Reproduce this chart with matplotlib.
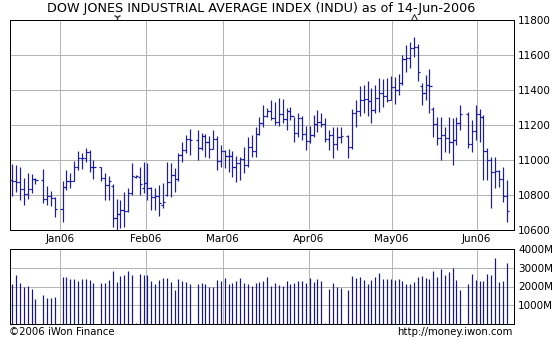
import numpy as np
import pandas as pd
import matplotlib
matplotlib.use('Agg')
import matplotlib.pyplot as plt
import matplotlib.transforms as mtransforms

# trading days shown; exchange holidays keep an empty weekday slot
holidays = ['2005-12-26', '2006-01-02', '2006-01-16', '2006-02-20', '2006-04-14', '2006-05-29']
days = [d for d in pd.bdate_range('2005-12-15', '2006-06-13') if d.strftime('%Y-%m-%d') not in holidays]

opens = [10884, 10882, 10876, 10837, 10806, 10834, 10889, 10883, 10778, 10796, 10785,
         10718, 10847, 10880, 10882, 10959, 11012, 11012, 11043, 10962, 10960, 10896, 10855, 10850, 10667, 10689, 10712, 10711, 10809, 10900, 10905,
         10840, 10867, 10838, 10790, 10795, 10740, 10800, 10876, 10914, 10892, 11028, 11059, 11121, 11115, 11069, 11137, 11102, 11062, 11120,
         10993, 11054, 11025, 11022, 10959, 10981, 11006, 10972, 11076, 11049, 11151, 11210, 11253, 11280, 11242, 11215, 11265, 11232, 11280, 11251, 11154, 11240, 11151,
         11109, 11144, 11204, 11216, 11204, 11120, 11141, 11090, 11130, 11138, 11074, 11269, 11279, 11343, 11347, 11336, 11283, 11354, 11383,
         11367, 11343, 11416, 11400, 11439, 11578, 11585, 11640, 11643, 11420, 11381, 11429, 11290, 11206, 11128, 11144, 11123, 11105, 11117, 11211, 11260, 11094,
         11168, 11260, 11248, 11049, 11002, 10932, 10939, 10892, 10793]
highs = [10977, 10969, 10962, 10895, 10924, 10920, 10896, 10948, 10851, 10821, 10790,
         10880, 10940, 10925, 10995, 11050, 11040, 11070, 11055, 11000, 10962, 10928, 10910, 10860, 10777, 10771, 10819, 10840, 10981, 10914, 10962,
         10990, 10980, 10848, 10838, 10857, 10867, 10990, 10981, 10952, 11040, 11105, 11143, 11175, 11170, 11157, 11150, 11137, 11170, 11137,
         11086, 11057, 11060, 11050, 11020, 11019, 11076, 11133, 11143, 11190, 11248, 11314, 11295, 11343, 11333, 11352, 11347, 11295, 11305, 11248, 11270, 11250, 11194,
         11194, 11257, 11286, 11267, 11240, 11171, 11190, 11190, 11190, 11143, 11290, 11340, 11420, 11430, 11450, 11410, 11430, 11467, 11461,
         11467, 11480, 11475, 11490, 11600, 11657, 11676, 11705, 11660, 11440, 11486, 11518, 11300, 11248, 11248, 11190, 11248, 11238, 11248, 11314, 11276, 11229,
         11314, 11290, 11257, 11070, 11019, 11019, 10943, 10962, 10886]
lows = [10796, 10819, 10771, 10743, 10777, 10809, 10860, 10752, 10743, 10739, 10676,
        10645, 10830, 10840, 10880, 10945, 10950, 10990, 10930, 10890, 10880, 10771, 10771, 10619, 10600, 10610, 10619, 10705, 10800, 10895, 10800,
        10810, 10771, 10714, 10714, 10680, 10724, 10794, 10790, 10819, 10880, 10990, 11038, 11030, 11000, 11057, 11019, 11010, 11060, 10943,
        10962, 10952, 10933, 10905, 10876, 10886, 10924, 10962, 11019, 11019, 11143, 11190, 11248, 11229, 11200, 11194, 11209, 11171, 11229, 11105, 11133, 11114, 11057,
        11095, 11133, 11162, 11190, 11100, 11057, 11010, 11057, 11095, 11010, 11060, 11190, 11250, 11270, 11250, 11210, 11267, 11276, 11305,
        11333, 11340, 11320, 11370, 11430, 11505, 11524, 11590, 11450, 11314, 11343, 11267, 11133, 11086, 11000, 11048, 11038, 10971, 11086, 11171, 11067, 11048,
        11114, 11105, 10886, 10886, 10724, 10838, 10848, 10762, 10648]
closes = [10882, 10876, 10837, 10806, 10834, 10889, 10883, 10778, 10796, 10785, 10718,
          10847, 10880, 10882, 10959, 11012, 11012, 11043, 10962, 10960, 10896, 10855, 10881, 10667, 10689, 10712, 10711, 10809, 10907, 10910, 10865,
          10870, 10838, 10790, 10795, 10752, 10760, 10876, 10914, 10890, 11028, 11059, 11121, 11115, 11069, 11137, 11102, 11062, 11120, 10993,
          11054, 11025, 11022, 10959, 10981, 11006, 10972, 11076, 11049, 11151, 11210, 11253, 11280, 11242, 11215, 11265, 11232, 11280, 11251, 11154, 11240, 11151, 11109,
          11144, 11204, 11216, 11204, 11120, 11141, 11090, 11130, 11138, 11074, 11269, 11279, 11343, 11347, 11336, 11283, 11354, 11383, 11367,
          11343, 11416, 11400, 11439, 11578, 11585, 11640, 11643, 11501, 11381, 11429, 11420, 11206, 11128, 11144, 11123, 11105, 11117, 11211, 11260, 11094, 11168,
          11260, 11248, 11049, 11002, 10932, 10939, 10892, 10793, 10706]
# volume in millions of shares
volume = [2160, 2600, 2210, 2000, 2050, 1880, 1320, 1530, 1400, 1390, 1460,
          2530, 2530, 2420, 2400, 2320, 2390, 2400, 2330, 2190, 2180, 2210, 2370, 2820, 2260, 2580, 2630, 2840, 2630, 70, 2680,
          2600, 2600, 2280, 2110, 2370, 2460, 2440, 2260, 1840, 2400, 2300, 2260, 2110, 2110, 2210, 2160, 1960, 2000, 2370,
          2320, 2470, 2160, 2210, 2280, 2440, 2180, 2140, 2050, 2180, 2260, 2280, 2530, 2020, 2180, 2070, 2020, 2320, 2140, 2180, 2280, 2320, 2210,
          2470, 2230, 2400, 2280, 70, 1890, 2190, 1950, 1930, 1790, 2580, 2440, 2530, 2370, 2120, 2370, 2530, 2740, 2420,
          2420, 2420, 2370, 2420, 2300, 2160, 2160, 2260, 2530, 2580, 2470, 2390, 2840, 2530, 2950, 2600, 2750, 2980, 2370, 1840, 2160, 2680,
          2370, 2320, 2320, 2680, 2630, 3530, 2230, 2280, 3230]

month_labels = ['Jan06', 'Feb06', 'Mar06', 'Apr06', 'May06', 'Jun06']
month_pos = [12.4, 34.5, 54.5, 76.8, 98.2, 120.2]
price_ticks = [10600, 10800, 11000, 11200, 11400, 11600, 11800]
vol_ticks = [1000, 2000, 3000, 4000]

# x position = weekday slot counted from the first day
slots = np.busday_count(np.datetime64('2005-12-15'), np.array([d.date() for d in days], dtype='datetime64[D]'))
opens, highs, lows, closes, volume = map(np.array, (opens, highs, lows, closes, volume))

bar_col = '#1c1ca4'
grid_col = '#b4b4b4'
px = 0.72  # one pixel in points at dpi 100

fig = plt.figure(figsize=(5.54, 3.40), dpi=100)
ax = fig.add_axes([10 / 554, 1 - 230 / 340, 504 / 554, 210 / 340])
axv = fig.add_axes([10 / 554, 1 - 324 / 340, 504 / 554, 75 / 340])

# price bars: high-low line, open tick left, close tick right
ax.vlines(slots, lows, highs, color=bar_col, lw=px * 1.2)
ax.hlines(opens, slots - 0.55, slots, color=bar_col, lw=px * 1.2)
ax.hlines(closes, slots, slots + 0.55, color=bar_col, lw=px * 1.2)

axv.vlines(slots, 0, volume, color='#16168c', lw=px * 1.2)

for a in (ax, axv):
    a.set_xlim(-0.6, 129.9)
    a.set_xticks(month_pos)
    a.grid(True, color=grid_col, lw=px)
    a.set_axisbelow(True)
    a.yaxis.tick_right()
    a.tick_params(length=0, labelsize=7.5, pad=3)
    for s in a.spines.values():
        s.set_linewidth(px)
        s.set_color('black')

ax.set_ylim(10600, 11800)
ax.set_yticks(price_ticks)
ax.set_xticklabels(month_labels)
ax.tick_params(axis='x', pad=3)

axv.set_ylim(0, 4000)
axv.set_yticks(vol_ticks)
axv.set_yticklabels([f'{v}M' for v in vol_ticks])
axv.set_xticklabels([])

# markers for period low and high above the frame
trans = mtransforms.blended_transform_factory(ax.transData, ax.transAxes)
ax.plot(slots[np.argmin(lows)], 1.012, marker='1', ms=5, mew=1, color='#333333', transform=trans, clip_on=False)
ax.plot(slots[np.argmax(highs)], 1.012, marker='^', ms=4.5, mew=0.8, mfc='none', color='#333333', transform=trans, clip_on=False)

fig.text(261 / 554, 1 - 8.5 / 340, 'DOW JONES INDUSTRIAL AVERAGE INDEX (INDU) as of 14-Jun-2006',
         ha='center', va='center', fontsize=9.2)
fig.text(9 / 554, 1 - 332 / 340, '©2006 iWon Finance', ha='left', va='center', fontsize=7.3)
fig.text(513 / 554, 1 - 332 / 340, 'http://money.iwon.com', ha='right', va='center', fontsize=7.3)

fig.savefig('out.png', dpi=100, facecolor='white')
